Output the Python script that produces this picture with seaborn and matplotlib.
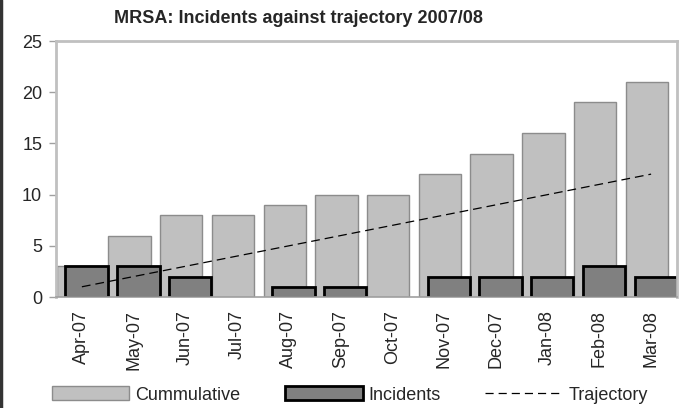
import numpy as np
import pandas as pd
import matplotlib
matplotlib.use("Agg")
import matplotlib.pyplot as plt
import seaborn as sns
from matplotlib.patches import Patch
from matplotlib.lines import Line2D

months = ['Apr-07', 'May-07', 'Jun-07', 'Jul-07', 'Aug-07', 'Sep-07',
          'Oct-07', 'Nov-07', 'Dec-07', 'Jan-08', 'Feb-08', 'Mar-08']
cumulative = [3, 6, 8, 8, 9, 10, 10, 12, 14, 16, 19, 21]
incidents = [3, 3, 2, 0, 1, 1, 0, 2, 2, 2, 3, 2]
trajectory = [1, 2, 3, 4, 5, 6, 7, 8, 9, 10, 11, 12]

sns.set_style('white')
plt.rcParams['font.family'] = ['Liberation Sans', 'DejaVu Sans']

df = pd.DataFrame({'month': months, 'Cummulative': cumulative,
                   'Incidents': incidents, 'Trajectory': trajectory})

fig = plt.figure(figsize=(6.79, 4.08), dpi=100)
ax = fig.add_axes([0.0825, 0.272, 0.9145, 0.6275])

# cumulative bars (shifted a bit left, like Excel overlap)
sns.barplot(data=df, x='month', y='Cummulative', ax=ax, width=0.82,
            color='#c0c0c0', edgecolor='#8c8c8c', linewidth=1, saturation=1)
n_cum = len(ax.patches)
for p in ax.patches[:n_cum]:
    p.set_x(p.get_x() - 0.08)

# incidents bars on top, shifted right
sns.barplot(data=df, x='month', y='Incidents', ax=ax, width=0.82,
            color='#808080', edgecolor='black', linewidth=2, saturation=1)
for p in ax.patches[n_cum:]:
    p.set_x(p.get_x() + 0.09)
    if p.get_height() == 0:
        p.set_visible(False)

sns.lineplot(data=df, x='month', y='Trajectory', ax=ax, color='black',
             linewidth=0.9, dashes=False, sort=False)
ax.lines[-1].set_dashes([7, 4])

ax.set_xlim(-0.5, 11.5)
ax.set_ylim(0, 25)
ax.set_yticks([0, 5, 10, 15, 20, 25])
ax.set_xlabel('')
ax.set_ylabel('')
for s in ['left', 'top', 'right', 'bottom']:
    ax.spines[s].set_visible(True)
    ax.spines[s].set_color('#c0c0c0')
    ax.spines[s].set_linewidth(2)
ax.spines['bottom'].set_color('#a0a0a0')
ax.spines['bottom'].set_linewidth(1.2)
ax.tick_params(axis='y', left=True, length=5, width=1, color='#a0a0a0',
               labelsize=13, pad=5)
ax.tick_params(axis='x', bottom=False, labelsize=13, pad=6)
plt.setp(ax.get_xticklabels(), rotation=90)

fig.text(0.44, 0.955, 'MRSA: Incidents against trajectory 2007/08',
         ha='center', va='center', fontsize=13, fontweight='bold')

handles = [Patch(facecolor='#c0c0c0', edgecolor='#8c8c8c', linewidth=1),
           Patch(facecolor='#808080', edgecolor='black', linewidth=2),
           Line2D([0], [0], color='black', linewidth=0.9, dashes=[6.5, 4])]
fig.legend(handles, ['Cummulative', 'Incidents', 'Trajectory'],
           loc='center', bbox_to_anchor=(0.515, 0.032), ncol=3, frameon=False,
           fontsize=13, handlelength=4.3, handleheight=0.8,
           handletextpad=0.3, columnspacing=2.5, borderpad=0)

# dark line along the left edge of the picture
fig.add_artist(Line2D([0.002, 0.002], [0, 1], color='#333333', linewidth=2.5,
                      transform=fig.transFigure))

fig.savefig('out.png', dpi=100)
